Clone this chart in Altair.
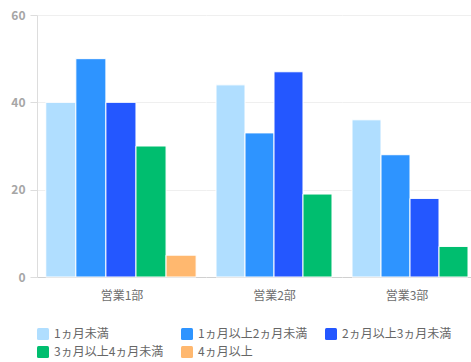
import altair as alt
import pandas as pd

# ---- data ----
categories = ["営業1部", "営業2部", "営業3部"]
series = ["1ヵ月未満", "1ヵ月以上2ヵ月未満", "2ヵ月以上3ヵ月未満", "3ヵ月以上4ヵ月未満", "4ヵ月以上"]
values_1 = [40, 50, 40, 30, 5]
values_2 = [44, 33, 47, 19, None]
values_3 = [36, 28, 18, 7, None]
colors = ["#B0DEFF", "#2E94FF", "#2457FF", "#00BE6F", "#FFB86F"]
y_ticks = [0, 20, 40, 60]

FONT = "Noto Sans CJK JP"

rows = []
for cat, vals in zip(categories, [values_1, values_2, values_3]):
    for s, v in zip(series, vals):
        if v is not None:
            rows.append({"cat": cat, "series": s, "value": v})
df = pd.DataFrame(rows)

# per-panel layout (width, paddingOuter, align)
panel_layout = [(169, 0.31, 0.47), (136, 0.345, 0.5), (129, 0.224, 0.77)]

rounded_sq = "M-0.75,-1H0.75Q1,-1 1,-0.75V0.75Q1,1 0.75,1H-0.75Q-1,1 -1,0.75V-0.75Q-1,-1 -0.75,-1Z"

color_scale = alt.Scale(domain=series, range=colors)
legend = alt.Legend(
    title=None, orient="none", legendX=0, legendY=313, columns=3,
    direction="horizontal",
    gridAlign="all", columnPadding=17, rowPadding=6,
    symbolType=rounded_sq, symbolSize=144, symbolStrokeWidth=0,
    labelFont=FONT, labelFontSize=12, labelColor="#666666",
    labelOffset=5, labelLimit=300,
)

panels = []
for i, cat in enumerate(categories):
    w, po, al = panel_layout[i]
    sub = df[df["cat"] == cat]
    if i == 0:
        yaxis = alt.Axis(values=y_ticks, title=None, grid=True, gridColor="#EFEFEF",
                         domainColor="#DDDDDD", tickColor="#DDDDDD", tickSize=7,
                         labelPadding=5, labelFont=FONT, labelFontSize=12,
                         labelColor="#A6A6A6", labelFontWeight="bold",
                         minExtent=37, maxExtent=37)
    else:
        yaxis = alt.Axis(values=y_ticks, title=None, grid=True, gridColor="#EFEFEF",
                         labels=False, ticks=False, domain=False,
                         minExtent=0, maxExtent=0)
    c = alt.Chart(sub).mark_bar(stroke="white", strokeWidth=1).encode(
        x=alt.X("series:N", sort=series,
                scale=alt.Scale(paddingInner=0, paddingOuter=po, align=al),
                axis=alt.Axis(labels=False, ticks=False, title=cat,
                              titleFont=FONT, titleFontSize=12, titleFontWeight="normal",
                              titleColor="#6E6E6E", titlePadding=13,
                              domainColor="#D0D0D0")),
        y=alt.Y("value:Q", scale=alt.Scale(domain=[0, 60]), axis=yaxis),
        color=alt.Color("series:N", scale=color_scale, legend=legend if i == 0 else None),
    ).properties(width=w, height=262)
    panels.append(c)

chart = (
    alt.hconcat(*panels, spacing=0)
    .resolve_scale(color="shared")
    .properties(padding={"left": 0, "top": 9, "right": 0, "bottom": 0})
    .configure(font=FONT)
    .configure_view(strokeWidth=0)
)

chart.save("out.html", embed_options={"renderer": "svg", "actions": False})
